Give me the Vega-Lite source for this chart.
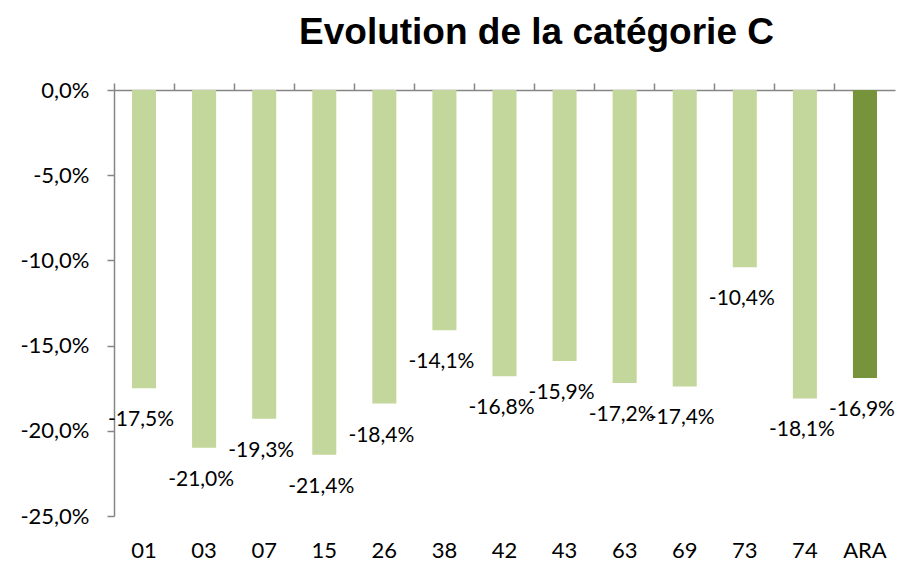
{
  "$schema": "https://vega.github.io/schema/vega-lite/v6.json",
  "width": 781,
  "height": 426,
  "autosize": "none",
  "padding": {"left": 114, "top": 90, "right": 9, "bottom": 45},
  "title": {
    "text": "Evolution de la catégorie C",
    "font": "Liberation Sans",
    "fontSize": 37,
    "fontWeight": "bold",
    "color": "#000000",
    "anchor": "middle",
    "dx": 32,
    "offset": 27
  },
  "data": {
    "values": [
      {"dep": "01", "evol": -0.175, "type": "dep"},
      {"dep": "03", "evol": -0.210, "type": "dep"},
      {"dep": "07", "evol": -0.193, "type": "dep"},
      {"dep": "15", "evol": -0.214, "type": "dep"},
      {"dep": "26", "evol": -0.184, "type": "dep"},
      {"dep": "38", "evol": -0.141, "type": "dep"},
      {"dep": "42", "evol": -0.168, "type": "dep"},
      {"dep": "43", "evol": -0.159, "type": "dep"},
      {"dep": "63", "evol": -0.172, "type": "dep"},
      {"dep": "69", "evol": -0.174, "type": "dep"},
      {"dep": "73", "evol": -0.104, "type": "dep"},
      {"dep": "74", "evol": -0.181, "type": "dep"},
      {"dep": "ARA", "evol": -0.169, "type": "region"}
    ]
  },
  "layer": [
    {
      "mark": {"type": "bar", "width": {"band": 0.4}},
      "encoding": {
        "x": {
          "field": "dep", "type": "nominal", "sort": null,
          "scale": {"paddingInner": 0, "paddingOuter": 0},
          "axis": {
            "orient": "top", "title": null, "labels": false,
            "domain": true, "domainColor": "#868686", "domainWidth": 1.5,
            "ticks": true, "tickColor": "#868686", "tickSize": 7, "tickWidth": 1.5,
            "bandPosition": 0
          }
        },
        "y": {
          "field": "evol", "type": "quantitative",
          "scale": {"domain": [-0.25, 0], "nice": false, "zero": false},
          "axis": {
            "title": null, "values": [0, -0.05, -0.1, -0.15, -0.2, -0.25],
            "format": ".1%", "grid": false,
            "domain": true, "domainColor": "#868686", "domainWidth": 1.5,
            "ticks": true, "tickColor": "#868686", "tickSize": 7, "tickWidth": 1.5,
            "labelFont": "Lato", "labelFontSize": 22, "labelColor": "#000000",
            "labelPadding": 18
          }
        },
        "y2": {"datum": 0},
        "color": {
          "field": "type", "type": "nominal",
          "scale": {"domain": ["dep", "region"], "range": ["#c3d69b", "#77933c"]},
          "legend": null
        }
      }
    },
    {
      "mark": {"type": "text", "baseline": "middle", "align": "center", "dy": 32, "dx": -3, "font": "Lato", "fontSize": 21, "color": "#000000"},
      "encoding": {
        "x": {
          "field": "dep", "type": "nominal", "sort": null,
          "axis": {
            "orient": "bottom", "title": null, "domain": false, "ticks": false,
            "labelFont": "Lato", "labelFontSize": 22, "labelColor": "#000000",
            "labelPadding": 24, "labelAngle": 0
          }
        },
        "y": {"field": "evol", "type": "quantitative"},
        "text": {"field": "evol", "type": "quantitative", "format": ".1%"}
      }
    }
  ],
  "resolve": {"axis": {"x": "independent"}},
  "config": {
    "view": {"stroke": null},
    "locale": {
      "number": {"decimal": ",", "thousands": " ", "grouping": [3], "currency": ["", " €"], "minus": "-"}
    }
  }
}
